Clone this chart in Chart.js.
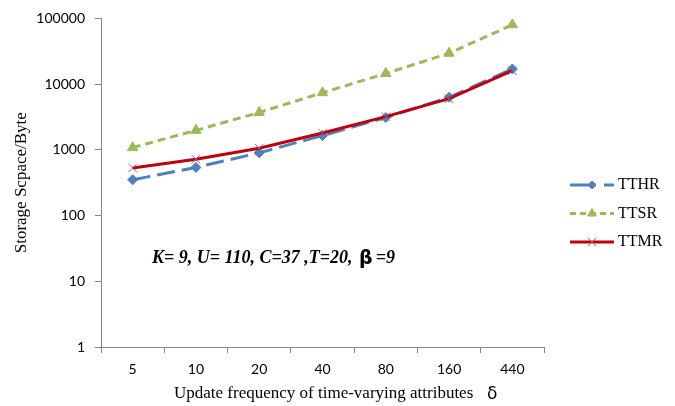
<!DOCTYPE html>
<html>
<head>
<meta charset="utf-8">
<script src="https://cdn.jsdelivr.net/npm/chart.js@4/dist/chart.umd.min.js"></script>
<style>
  html, body { margin: 0; padding: 0; background: #fff; }
  #wrap { width: 675px; height: 406px; }
</style>
</head>
<body>
<div id="wrap"><canvas id="chartStorage" width="675" height="406"></canvas></div>
<script>
// update frequency categories
var categories = ['5', '10', '20', '40', '80', '160', '440'];
// storage space (byte)
var dataTTHR = [350, 540, 900, 1650, 3100, 6300, 17000];
var dataTTSR = [1080, 1980, 3700, 7400, 14500, 29500, 80000];
var dataTTMR = [530, 720, 1060, 1800, 3200, 6000, 16000];
var yTicks = [1, 10, 100, 1000, 10000, 100000];

var seriesNames = ['TTHR', 'TTSR', 'TTMR'];
var legendRadius = [4, 5, 6];
var legendDash = [[26, 8], [6, 4], []];
var axisGray = '#868686';

// annotation, x title and legend drawn on the canvas
var extras = {
    id: 'extras',
    afterDraw: function(chart) {
        var ctx = chart.ctx;
        var area = chart.chartArea;
        ctx.save();
        ctx.textBaseline = 'middle';
        ctx.fillStyle = '#000';

        // parameter note inside the plot
        var x = area.left + 51;
        var y = area.top + 240;
        ctx.font = 'italic bold 18px "Liberation Serif"';
        var t1 = 'K= 9, U= 110, C=37 ,T=20, ';
        ctx.fillText(t1, x, y);
        x += ctx.measureText(t1).width + 2;
        ctx.font = 'bold 19px "DejaVu Sans"';
        ctx.fillText('\u03B2', x, y + 1);
        x += ctx.measureText('\u03B2').width + 3;
        ctx.font = 'italic bold 18px "Liberation Serif"';
        ctx.fillText('=9', x, y);

        // x axis title
        ctx.font = '17px "Liberation Serif"';
        ctx.fillText('Update frequency of time-varying attributes', 174, 394);
        ctx.font = '17px "DejaVu Sans"';
        ctx.fillText('\u03B4', 487, 395);

        // legend on the right
        var lx = 570, ly = 185;
        chart.data.datasets.forEach(function(ds, i) {
            var yy = ly + i * 28.5;
            ctx.strokeStyle = ds.borderColor;
            ctx.lineWidth = 3;
            ctx.setLineDash(legendDash[i]);
            ctx.beginPath();
            ctx.moveTo(lx, yy);
            ctx.lineTo(lx + 44, yy);
            ctx.stroke();
            ctx.setLineDash([]);
            ctx.fillStyle = ds.pointBackgroundColor;
            ctx.strokeStyle = ds.pointBorderColor;
            ctx.lineWidth = ds.pointBorderWidth || 1;
            Chart.helpers.drawPoint(ctx, {
                pointStyle: ds.pointStyle,
                radius: legendRadius[i],
                borderWidth: ds.pointBorderWidth || 1
            }, lx + 22, yy);
            ctx.fillStyle = '#000';
            ctx.font = '16px "Liberation Serif"';
            ctx.fillText(seriesNames[i], lx + 48, yy);
        });
        ctx.restore();
    }
};

var chart = new Chart(document.getElementById('chartStorage').getContext('2d'), {
    type: 'line',
    data: {
        labels: categories,
        datasets: [{
            label: seriesNames[0],
            data: dataTTHR,
            borderColor: '#4F81BD',
            borderWidth: 3,
            borderDash: [18, 7],
            pointStyle: 'rectRot',
            pointRadius: 5,
            pointBackgroundColor: '#4F81BD',
            pointBorderColor: '#4F81BD',
            pointBorderWidth: 1,
            order: 2
        }, {
            label: seriesNames[1],
            data: dataTTSR,
            borderColor: '#9BBB59',
            borderWidth: 3,
            borderDash: [8, 5],
            pointStyle: 'triangle',
            pointRadius: 6,
            pointBackgroundColor: '#9BBB59',
            pointBorderColor: '#9BBB59',
            pointBorderWidth: 1,
            order: 3
        }, {
            label: seriesNames[2],
            data: dataTTMR,
            borderColor: '#C0000B',
            borderWidth: 3,
            pointStyle: 'crossRot',
            pointRadius: 6,
            pointBackgroundColor: '#8064A2',
            pointBorderColor: '#8064A2',
            pointBorderWidth: 1,
            order: 1
        }]
    },
    options: {
        responsive: false,
        animation: false,
        layout: { padding: { left: 0, top: 17, right: 131, bottom: 0 } },
        plugins: {
            legend: { display: false },
            tooltip: { enabled: false }
        },
        scales: {
            x: {
                type: 'category',
                offset: true,
                grid: { drawOnChartArea: false, offset: true, tickLength: 6, color: axisGray },
                border: { color: axisGray, width: 1 },
                ticks: { color: '#000', padding: 8, font: { family: 'Lato', size: 14 } },
                afterFit: function(scale) { scale.height = 59; }
            },
            y: {
                type: 'logarithmic',
                min: 1,
                max: 100000,
                grid: { drawOnChartArea: false, tickLength: 6, color: axisGray },
                border: { color: axisGray, width: 1 },
                ticks: {
                    color: '#000',
                    padding: 10,
                    font: { family: 'Lato', size: 14 },
                    callback: function(v) { return String(v); }
                },
                afterBuildTicks: function(scale) {
                    scale.ticks = yTicks.map(function(v) { return { value: v }; });
                },
                title: {
                    display: true,
                    text: 'Storage Scpace/Byte',
                    color: '#000',
                    font: { family: 'Liberation Serif', size: 17 },
                    padding: { top: 11, bottom: 0 }
                },
                afterFit: function(scale) { scale.width = 101; }
            }
        }
    },
    plugins: [extras]
});
</script>
</body>
</html>
